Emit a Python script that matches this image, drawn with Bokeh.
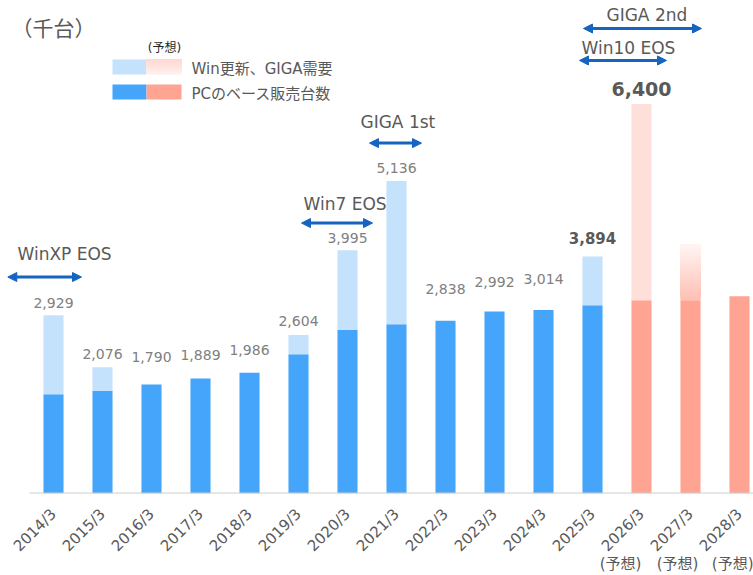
import math
from bokeh.plotting import figure
from bokeh.models import (Range1d, FixedTicker, LinearAxis, CustomJSTickFormatter,
                          Arrow, NormalHead, Label)
from bokeh.core.properties import value
from bokeh.embed import file_html
from bokeh.resources import INLINE

# ---------------- data ----------------
categories = ["2014/3", "2015/3", "2016/3", "2017/3", "2018/3", "2019/3", "2020/3",
              "2021/3", "2022/3", "2023/3", "2024/3", "2025/3", "2026/3", "2027/3", "2028/3"]
base_sales = [1630, 1685, 1790, 1889, 1986, 2287, 2687, 2780, 2838, 2992, 3014, 3092,
              3174, 3174, 3240]
total_sales = [2929, 2076, 1790, 1889, 1986, 2604, 3995, 5136, 2838, 2992, 3014, 3894,
               6400, 4094, 3240]
shown_labels = [2929, 2076, 1790, 1889, 1986, 2604, 3995, 5136, 2838, 2992, 3014, 3894, 6400]
bold_label_idx = [11, 12]
forecast_idx = [12, 13, 14]
gradient_idx = 13
events = ["WinXP EOS", "Win7 EOS", "GIGA 1st", "GIGA 2nd", "Win10 EOS"]
forecast_note = "(予想)"

# ---------------- layout helpers (reference pixel -> data) ----------------
BASE_PX = 493.3
PXU = 0.0609  # px per data unit

def X(px):
    return (px - 53.0) / 49.0

def Y(py):
    return (BASE_PX - py) / PXU

def TY(py, fs):
    # text baseline correction for rendered fonts
    return Y(py - 0.3 * fs)

FONT = "DejaVu Sans, Noto Sans CJK JP"
BLUE = "#45a5fb"
LBLUE = "#c4e2fb"
SALMON = "#ffa392"
LPINK = "#ffdfda"
ARROW = "#1565c0"
TXT = "#595959"

p = figure(width=753, height=575, x_range=Range1d(X(0), X(753)), y_range=Range1d(0, Y(0)),
           output_backend="svg", toolbar_location=None,
           x_axis_location=None, y_axis_location=None,
           min_border_left=0, min_border_right=0, min_border_top=0,
           min_border_bottom=int(575 - BASE_PX))
p.outline_line_color = None
p.xgrid.visible = False
p.ygrid.visible = False

xs = list(range(len(categories)))

# base bars
base_colors = [SALMON if i in forecast_idx else BLUE for i in xs]
p.vbar(x=xs, bottom=0, top=base_sales, width=0.41, fill_color=base_colors, line_color=None)

# upper (Win update / GIGA) segments
ux, ub, ut, uc = [], [], [], []
for i in xs:
    if total_sales[i] > base_sales[i] and i != gradient_idx:
        ux.append(i); ub.append(base_sales[i]); ut.append(total_sales[i])
        uc.append(LPINK if i in forecast_idx else LBLUE)
p.vbar(x=ux, bottom=ub, top=ut, width=0.41, fill_color=uc, line_color=None)


def lerp_color(c1, c2, t):
    a = [int(c1[k:k + 2], 16) for k in (1, 3, 5)]
    b = [int(c2[k:k + 2], 16) for k in (1, 3, 5)]
    return "#%02x%02x%02x" % tuple(round(a[j] + (b[j] - a[j]) * t) for j in range(3))


def gradient(left, right, y0, y1, c_bottom, c_top, n):
    bots = [y0 + (y1 - y0) * k / n for k in range(n)]
    cols = [lerp_color(c_bottom, c_top, k / (n - 1)) for k in range(n)]
    p.quad(left=left, right=right, bottom=bots, top=y1, fill_color=cols, line_color=None)


# gradient segment (2027 forecast)
gradient(gradient_idx - 0.205, gradient_idx + 0.205, base_sales[gradient_idx],
         total_sales[gradient_idx], "#ffc0b3", "#fff5f3", 40)

# baseline
p.segment(x0=[X(29)], y0=[0], x1=[X(760)], y1=[0], line_color="#d0d0d0", line_width=2)

# value labels
gaps_px = [8, 9, 23, 19, 18, 10, 8, 9, 28, 25, 27, 14, 9]
nx, ny, nt = [], [], []
for i, v in enumerate(shown_labels):
    if i in bold_label_idx:
        continue
    nx.append(i); ny.append(total_sales[i] + (gaps_px[i] + 0.3 * 14) / PXU); nt.append(f"{v:,}")
p.text(x=nx, y=ny, text=nt, text_font=value(FONT), text_font_size="14px",
       text_color="#808080", text_align="center", text_baseline="alphabetic")
bsizes = {11: 15, 12: 19}
for i in bold_label_idx:
    fs = bsizes[i]
    p.text(x=[i], y=[total_sales[i] + (gaps_px[i] + 0.3 * fs) / PXU], text=[f"{shown_labels[i]:,}"],
           text_font=value(FONT), text_font_size=f"{fs}px", text_font_style="bold",
           text_color=TXT, text_align="center", text_baseline="alphabetic")

# event arrows and texts
arrow_px = [(7.3, 81, 276.7), (301, 372, 222.7), (369, 421, 142.7), (583, 701, 28), (579, 666, 60)]
text_px = [(17, 259), (303, 209), (360, 127), (606, 20), (581, 53)]
for name, (xa, xb, ya), (tx, ty) in zip(events, arrow_px, text_px):
    p.add_layout(Arrow(x_start=X(xa), y_start=Y(ya), x_end=X(xb), y_end=Y(ya),
                       line_color=ARROW, line_width=3,
                       start=NormalHead(size=9, fill_color=ARROW, line_color=ARROW),
                       end=NormalHead(size=9, fill_color=ARROW, line_color=ARROW)))
    p.add_layout(Label(x=X(tx), y=TY(ty, 17), text=name, text_font=FONT, text_font_size="17px",
                       text_color=TXT, text_baseline="alphabetic", text_align="left"))

# unit
p.add_layout(Label(x=X(11), y=Y(29), text="（千台）", text_font=FONT, text_font_size="21px",
                   text_color=TXT, text_baseline="alphabetic"))

# legend (custom)
p.quad(left=[X(112), X(112)], right=[X(146), X(146)], bottom=[Y(74), Y(99)], top=[Y(59), Y(84)],
       fill_color=[LBLUE, BLUE], line_color=None)
p.quad(left=[X(146)], right=[X(181)], bottom=[Y(99)], top=[Y(84)], fill_color=[SALMON], line_color=None)
gradient(X(146), X(181), Y(74), Y(59), "#fff0ed", "#ffd8d1", 16)
p.add_layout(Label(x=X(164), y=Y(48), text=forecast_note, text_font=FONT, text_font_size="12px",
                   text_color="#262626", text_align="center", text_baseline="alphabetic"))
p.add_layout(Label(x=X(191), y=Y(69), text="Win更新、GIGA需要", text_font=FONT,
                   text_font_size="15px", text_color=TXT, text_baseline="alphabetic"))
p.add_layout(Label(x=X(191), y=Y(94), text="PCのベース販売台数", text_font=FONT,
                   text_font_size="15px", text_color=TXT, text_baseline="alphabetic"))

# x axis (categories)
ax = LinearAxis(ticker=FixedTicker(ticks=xs),
                major_label_overrides={i: c for i, c in enumerate(categories)})
ax.major_label_orientation = math.pi / 4
ax.major_label_standoff = 18
ax2 = LinearAxis(ticker=FixedTicker(ticks=[X(620), X(677), X(735)]),
                 formatter=CustomJSTickFormatter(code="return '(予想)'"))
ax2.major_label_standoff = -10
for a in (ax, ax2):
    a.axis_line_color = None
    a.major_tick_line_color = None
    a.minor_tick_line_color = None
    a.major_tick_out = 0
    a.major_tick_in = 0
    a.axis_label_standoff = 0
    a.major_label_text_font = FONT
    a.major_label_text_font_size = "15px"
    a.major_label_text_color = TXT
p.add_layout(ax, "below")
p.add_layout(ax2, "below")

open("out.html", "w").write(file_html(p, INLINE))
